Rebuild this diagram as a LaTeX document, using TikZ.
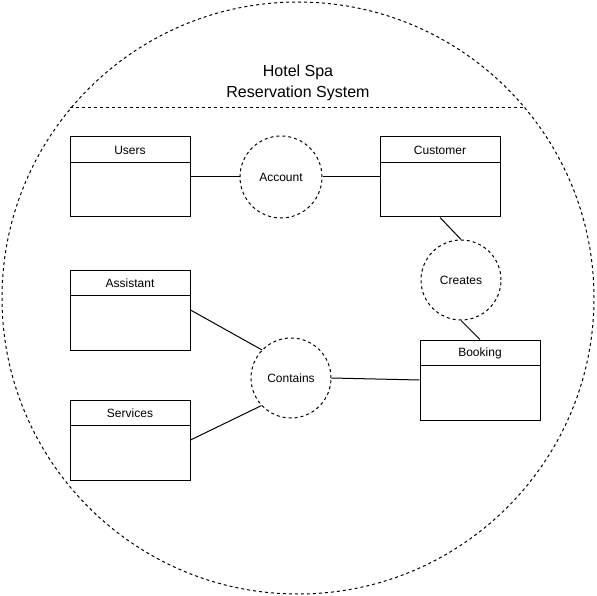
\documentclass[tikz,border=0pt]{standalone}
\usepackage{fontspec}
\setmainfont{Liberation Sans}
\begin{document}
\begin{tikzpicture}[x=1pt,y=-1pt,
  line width=1pt,
  dsh/.style={dash pattern=on 3pt off 3pt},
  entity/.style={draw, rectangle, minimum width=120pt, minimum height=80pt, inner sep=0pt},
  rel/.style={draw, circle, dsh, minimum size=#1, inner sep=0pt, font=\fontsize{12}{14}\selectfont},
  lbl/.style={font=\fontsize{12}{14}\selectfont, inner sep=0pt}
]
\useasboundingbox (0,0) rectangle (597,596);
\node[draw, circle, dsh, minimum size=592pt, inner sep=0pt] (system) at (298,298) {};
\node[align=center, font=\fontsize{16}{21}\selectfont, inner sep=0pt] (title) at (298,82.5) {Hotel Spa\\Reservation System};
\coordinate (tl) at (70,108);
\coordinate (tr) at (526,108);
\draw[dsh] (tl) -- (tr);

\foreach \n/\t/\x/\y in {users/Users/130/177, customer/Customer/440/177, assistant/Assistant/130/310, services/Services/130/440, booking/Booking/480/380}{
  \node[entity] (\n) at (\x,\y) {};
  \draw ([yshift=-26pt]\n.north west) -- ([yshift=-26pt]\n.north east);
  \node[lbl] (\n-label) at ([yshift=-14pt]\n.north) {\t};
}

\node[rel=82pt] (account) at (281,177) {Account};
\node[rel=80pt] (creates) at (461,280) {Creates};
\node[rel=80pt] (contains) at (291,378) {Contains};

\draw (users.east) -- (account.west);
\draw (account.east) -- (customer.west);
\draw (customer.south) -- (creates.north);
\draw (creates.south) -- (booking.north);
\draw (assistant.east) -- (contains.136);
\draw (services.east) -- (contains.223);
\draw (contains.east) -- (booking.west);
\end{tikzpicture}
\end{document}
